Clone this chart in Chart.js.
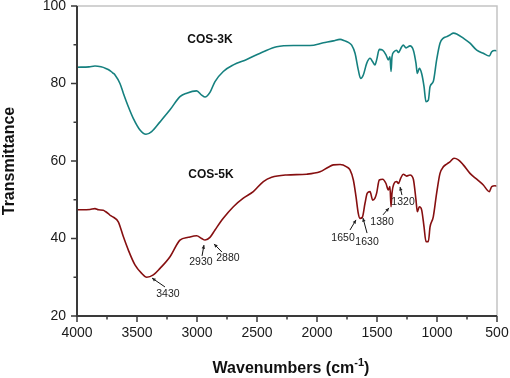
<!DOCTYPE html>
<html>
<head>
<meta charset="utf-8">
<script src="https://cdn.jsdelivr.net/npm/chart.js@4.4.0/dist/chart.umd.min.js"></script>
<style>
  html, body { margin: 0; padding: 0; background: #fff; }
  #wrap { width: 510px; height: 378px; }
</style>
</head>
<body>
<div id="wrap"><canvas id="ftir" width="510" height="378"></canvas></div>
<script>
// COS-3K スペクトル (波数, 透過率)
const cos3kWave = [4000, 3900, 3850, 3800, 3760, 3740, 3720, 3700, 3683, 3642, 3614, 3572, 3531, 3475, 3425, 3378, 3308, 3225, 3142, 3086, 3003, 2961, 2933, 2892, 2850, 2781, 2697, 2586, 2447, 2336, 2197, 2058, 1947, 1864, 1808, 1767, 1739, 1711, 1683, 1656, 1636, 1614, 1586, 1558, 1536, 1517, 1503, 1481, 1453, 1425, 1406, 1392, 1383, 1375, 1358, 1336, 1322, 1294, 1281, 1258, 1225, 1197, 1175, 1164, 1147, 1128, 1108, 1092, 1072, 1058, 1031, 1003, 975, 947, 919, 892, 864, 836, 781, 725, 669, 614, 564, 544, 517, 500];
const cos3kT = [84.2, 84.3, 84.5, 84.3, 83.9, 83.6, 83.2, 82.7, 82.2, 80.0, 77.5, 74.0, 71.0, 68.0, 66.9, 67.6, 70.1, 73.2, 76.6, 77.5, 78.1, 77.0, 76.5, 77.7, 80.5, 83.1, 84.8, 86.2, 88.2, 89.5, 89.8, 89.8, 90.5, 91.0, 91.4, 91.0, 90.6, 89.9, 87.8, 83.5, 81.3, 82.2, 85.2, 86.5, 85.6, 84.8, 86.1, 88.8, 88.6, 87.4, 86.1, 86.9, 83.1, 86.9, 88.2, 88.6, 88.0, 89.5, 89.9, 89.2, 89.7, 88.6, 85.2, 82.6, 83.9, 82.6, 79.2, 75.3, 75.7, 79.2, 80.5, 86.1, 90.4, 91.7, 92.1, 92.5, 93.0, 92.8, 91.7, 90.4, 88.6, 87.8, 87.1, 88.2, 88.5, 88.4];

// COS-5K スペクトル
const cos5kWave = [4000, 3892, 3850, 3820, 3781, 3760, 3739, 3720, 3697, 3656, 3614, 3572, 3517, 3461, 3419, 3364, 3308, 3225, 3142, 3072, 3003, 2961, 2933, 2892, 2850, 2781, 2697, 2614, 2531, 2447, 2378, 2253, 2086, 1975, 1906, 1864, 1808, 1753, 1725, 1697, 1675, 1656, 1642, 1622, 1600, 1581, 1558, 1536, 1517, 1503, 1481, 1453, 1425, 1406, 1392, 1383, 1375, 1358, 1336, 1322, 1303, 1281, 1253, 1225, 1197, 1175, 1164, 1147, 1128, 1108, 1092, 1072, 1058, 1031, 1003, 975, 947, 919, 892, 858, 822, 781, 725, 669, 614, 564, 544, 517, 500];
const cos5kT = [47.4, 47.5, 47.7, 47.4, 47.3, 46.9, 46.4, 45.9, 45.5, 44.3, 40.5, 37.0, 33.2, 31.0, 30.0, 30.6, 32.3, 35.3, 39.6, 40.3, 40.7, 40.0, 39.6, 40.3, 42.2, 45.2, 48.2, 50.4, 52.1, 54.7, 55.8, 56.4, 56.6, 57.2, 58.4, 59.0, 59.1, 58.5, 57.7, 55.1, 50.8, 46.5, 45.2, 45.5, 49.1, 51.7, 52.1, 49.9, 50.4, 51.7, 55.1, 55.3, 54.2, 52.5, 53.4, 48.2, 51.7, 54.2, 54.7, 54.2, 55.5, 56.6, 56.1, 56.4, 55.3, 49.9, 46.9, 48.2, 47.4, 43.0, 39.2, 39.2, 43.0, 45.6, 51.7, 56.8, 58.5, 59.2, 59.8, 60.7, 60.3, 59.0, 56.8, 55.3, 53.8, 52.1, 53.4, 53.6, 53.5];

// 軸の目盛り
const xTicks = [4000, 3500, 3000, 2500, 2000, 1500, 1000, 500];
const yTicks = [20, 40, 60, 80, 100];

// ピーク注記 (ラベル, 文字位置, 矢印の根元, 矢印の先) — データ座標
const peakLabels = ['3430', '2930', '2880', '1650', '1630', '1380', '1320'];
const peakText = [[3242, 25.7], [2967, 33.9], [2742, 35.0], [1783, 40.1], [1583, 39.1], [1458, 44.3], [1283, 49.4]];
const peakTail = [[3267, 27.5], [2958, 35.5], [2792, 36.5], [1725, 42.2], [1583, 41.4], [1450, 46.1], [1292, 51.2]];
const peakHead = [[3375, 29.8], [2942, 38.3], [2858, 38.6], [1675, 44.8], [1617, 45.3], [1400, 47.9], [1308, 53.3]];

const seriesNames = ['COS-3K', 'COS-5K'];
const seriesLabelPos = [[2892, 91.2], [2883, 56.4]];

const FONT = '"Liberation Sans", Arial, sans-serif';

function toPoints(xs, ys) {
    return xs.map((x, i) => ({ x: x, y: ys[i] }));
}

// 目盛り・枠・注記を描くプラグイン
const decorPlugin = {
    id: 'decor',
    afterDraw(chart) {
        const ctx = chart.ctx;
        const xs = chart.scales.x;
        const ys = chart.scales.y;
        const a = chart.chartArea;
        ctx.save();

        // 上と右の枠 (薄いグレー)
        ctx.strokeStyle = '#c4c4c4';
        ctx.lineWidth = 1.5;
        ctx.beginPath();
        ctx.moveTo(a.left, a.top);
        ctx.lineTo(a.right, a.top);
        ctx.lineTo(a.right, a.bottom);
        ctx.stroke();

        // 左と下の軸
        ctx.strokeStyle = '#3a3a3a';
        ctx.lineWidth = 2;
        ctx.beginPath();
        ctx.moveTo(a.left, a.top);
        ctx.lineTo(a.left, a.bottom);
        ctx.lineTo(a.right, a.bottom);
        ctx.stroke();

        // 目盛り線 (主・副)
        ctx.lineWidth = 1.5;
        ctx.beginPath();
        for (let v = 500; v <= 4000; v += 250) {
            const px = xs.getPixelForValue(v);
            const len = (v % 500 === 0) ? 6 : 3.5;
            ctx.moveTo(px, a.bottom);
            ctx.lineTo(px, a.bottom + len);
        }
        for (let v = 20; v <= 100; v += 10) {
            const py = ys.getPixelForValue(v);
            const len = (v % 20 === 0) ? 6 : 3.5;
            ctx.moveTo(a.left, py);
            ctx.lineTo(a.left - len, py);
        }
        ctx.stroke();

        // 系列名
        ctx.fillStyle = '#111';
        ctx.font = 'bold 12px ' + FONT;
        ctx.textAlign = 'center';
        ctx.textBaseline = 'middle';
        seriesNames.forEach((name, i) => {
            ctx.fillText(name, xs.getPixelForValue(seriesLabelPos[i][0]), ys.getPixelForValue(seriesLabelPos[i][1]));
        });

        // ピーク注記と矢印
        ctx.font = '10.5px ' + FONT;
        ctx.fillStyle = '#222';
        ctx.strokeStyle = '#111';
        ctx.lineWidth = 1;
        peakLabels.forEach((lab, i) => {
            ctx.fillText(lab, xs.getPixelForValue(peakText[i][0]), ys.getPixelForValue(peakText[i][1]));
            const x0 = xs.getPixelForValue(peakTail[i][0]);
            const y0 = ys.getPixelForValue(peakTail[i][1]);
            const x1 = xs.getPixelForValue(peakHead[i][0]);
            const y1 = ys.getPixelForValue(peakHead[i][1]);
            const ang = Math.atan2(y1 - y0, x1 - x0);
            ctx.beginPath();
            ctx.moveTo(x0, y0);
            ctx.lineTo(x1, y1);
            ctx.stroke();
            ctx.beginPath();
            ctx.moveTo(x1, y1);
            ctx.lineTo(x1 - 4 * Math.cos(ang - 0.45), y1 - 4 * Math.sin(ang - 0.45));
            ctx.lineTo(x1 - 4 * Math.cos(ang + 0.45), y1 - 4 * Math.sin(ang + 0.45));
            ctx.closePath();
            ctx.fill();
        });

        // x 軸タイトル (上付き -1)
        ctx.fillStyle = '#111';
        ctx.textAlign = 'left';
        ctx.textBaseline = 'alphabetic';
        const main = 'Wavenumbers (cm';
        const sup = '-1';
        const tail = ')';
        ctx.font = 'bold 16px ' + FONT;
        const w1 = ctx.measureText(main).width;
        const w3 = ctx.measureText(tail).width;
        ctx.font = 'bold 11px ' + FONT;
        const w2 = ctx.measureText(sup).width;
        let x = (a.left + a.right) / 2 + 4 - (w1 + w2 + w3) / 2;
        const base = 373;
        ctx.font = 'bold 16px ' + FONT;
        ctx.fillText(main, x, base);
        ctx.font = 'bold 11px ' + FONT;
        ctx.fillText(sup, x + w1, base - 7);
        ctx.font = 'bold 16px ' + FONT;
        ctx.fillText(tail, x + w1 + w2, base);

        ctx.restore();
    }
};

function createChart() {
    const ctx = document.getElementById('ftir').getContext('2d');
    new Chart(ctx, {
        type: 'line',
        data: {
            datasets: [{
                label: 'COS-3K',
                data: toPoints(cos3kWave, cos3kT),
                borderColor: '#15807f',
                borderWidth: 1.6,
                pointRadius: 0,
                cubicInterpolationMode: 'monotone',
                fill: false
            }, {
                label: 'COS-5K',
                data: toPoints(cos5kWave, cos5kT),
                borderColor: '#860f10',
                borderWidth: 1.6,
                pointRadius: 0,
                cubicInterpolationMode: 'monotone',
                fill: false
            }]
        },
        options: {
            responsive: false,
            animation: false,
            layout: { padding: { top: 6, right: 13, left: 0, bottom: 0 } },
            plugins: {
                legend: { display: false },
                tooltip: { enabled: false }
            },
            scales: {
                x: {
                    type: 'linear',
                    reverse: true,
                    min: 500,
                    max: 4000,
                    afterBuildTicks: s => { s.ticks = xTicks.map(v => ({ value: v })); },
                    ticks: {
                        padding: 9,
                        maxRotation: 0,
                        color: '#1a1a1a',
                        font: { family: FONT, size: 14 },
                        callback: v => String(v)
                    },
                    grid: { display: false, drawTicks: false },
                    border: { display: false },
                    afterFit: s => {
                        s.height = 62;
                        s.paddingLeft = 0;
                        s.paddingRight = 0;
                    }
                },
                y: {
                    min: 20,
                    max: 100,
                    afterBuildTicks: s => { s.ticks = yTicks.map(v => ({ value: v })); },
                    ticks: {
                        padding: 11,
                        color: '#1a1a1a',
                        font: { family: FONT, size: 14 },
                        callback: v => String(v)
                    },
                    grid: { display: false, drawTicks: false },
                    border: { display: false },
                    title: {
                        display: true,
                        text: 'Transmittance',
                        color: '#111',
                        padding: { top: 0, bottom: 0 },
                        font: { family: FONT, size: 16, weight: 'bold' }
                    },
                    afterFit: s => {
                        s.width = 77;
                        s.paddingTop = 0;
                        s.paddingBottom = 0;
                    }
                }
            }
        },
        plugins: [decorPlugin]
    });
}

window.onload = function() {
    createChart();
};
</script>
</body>
</html>
